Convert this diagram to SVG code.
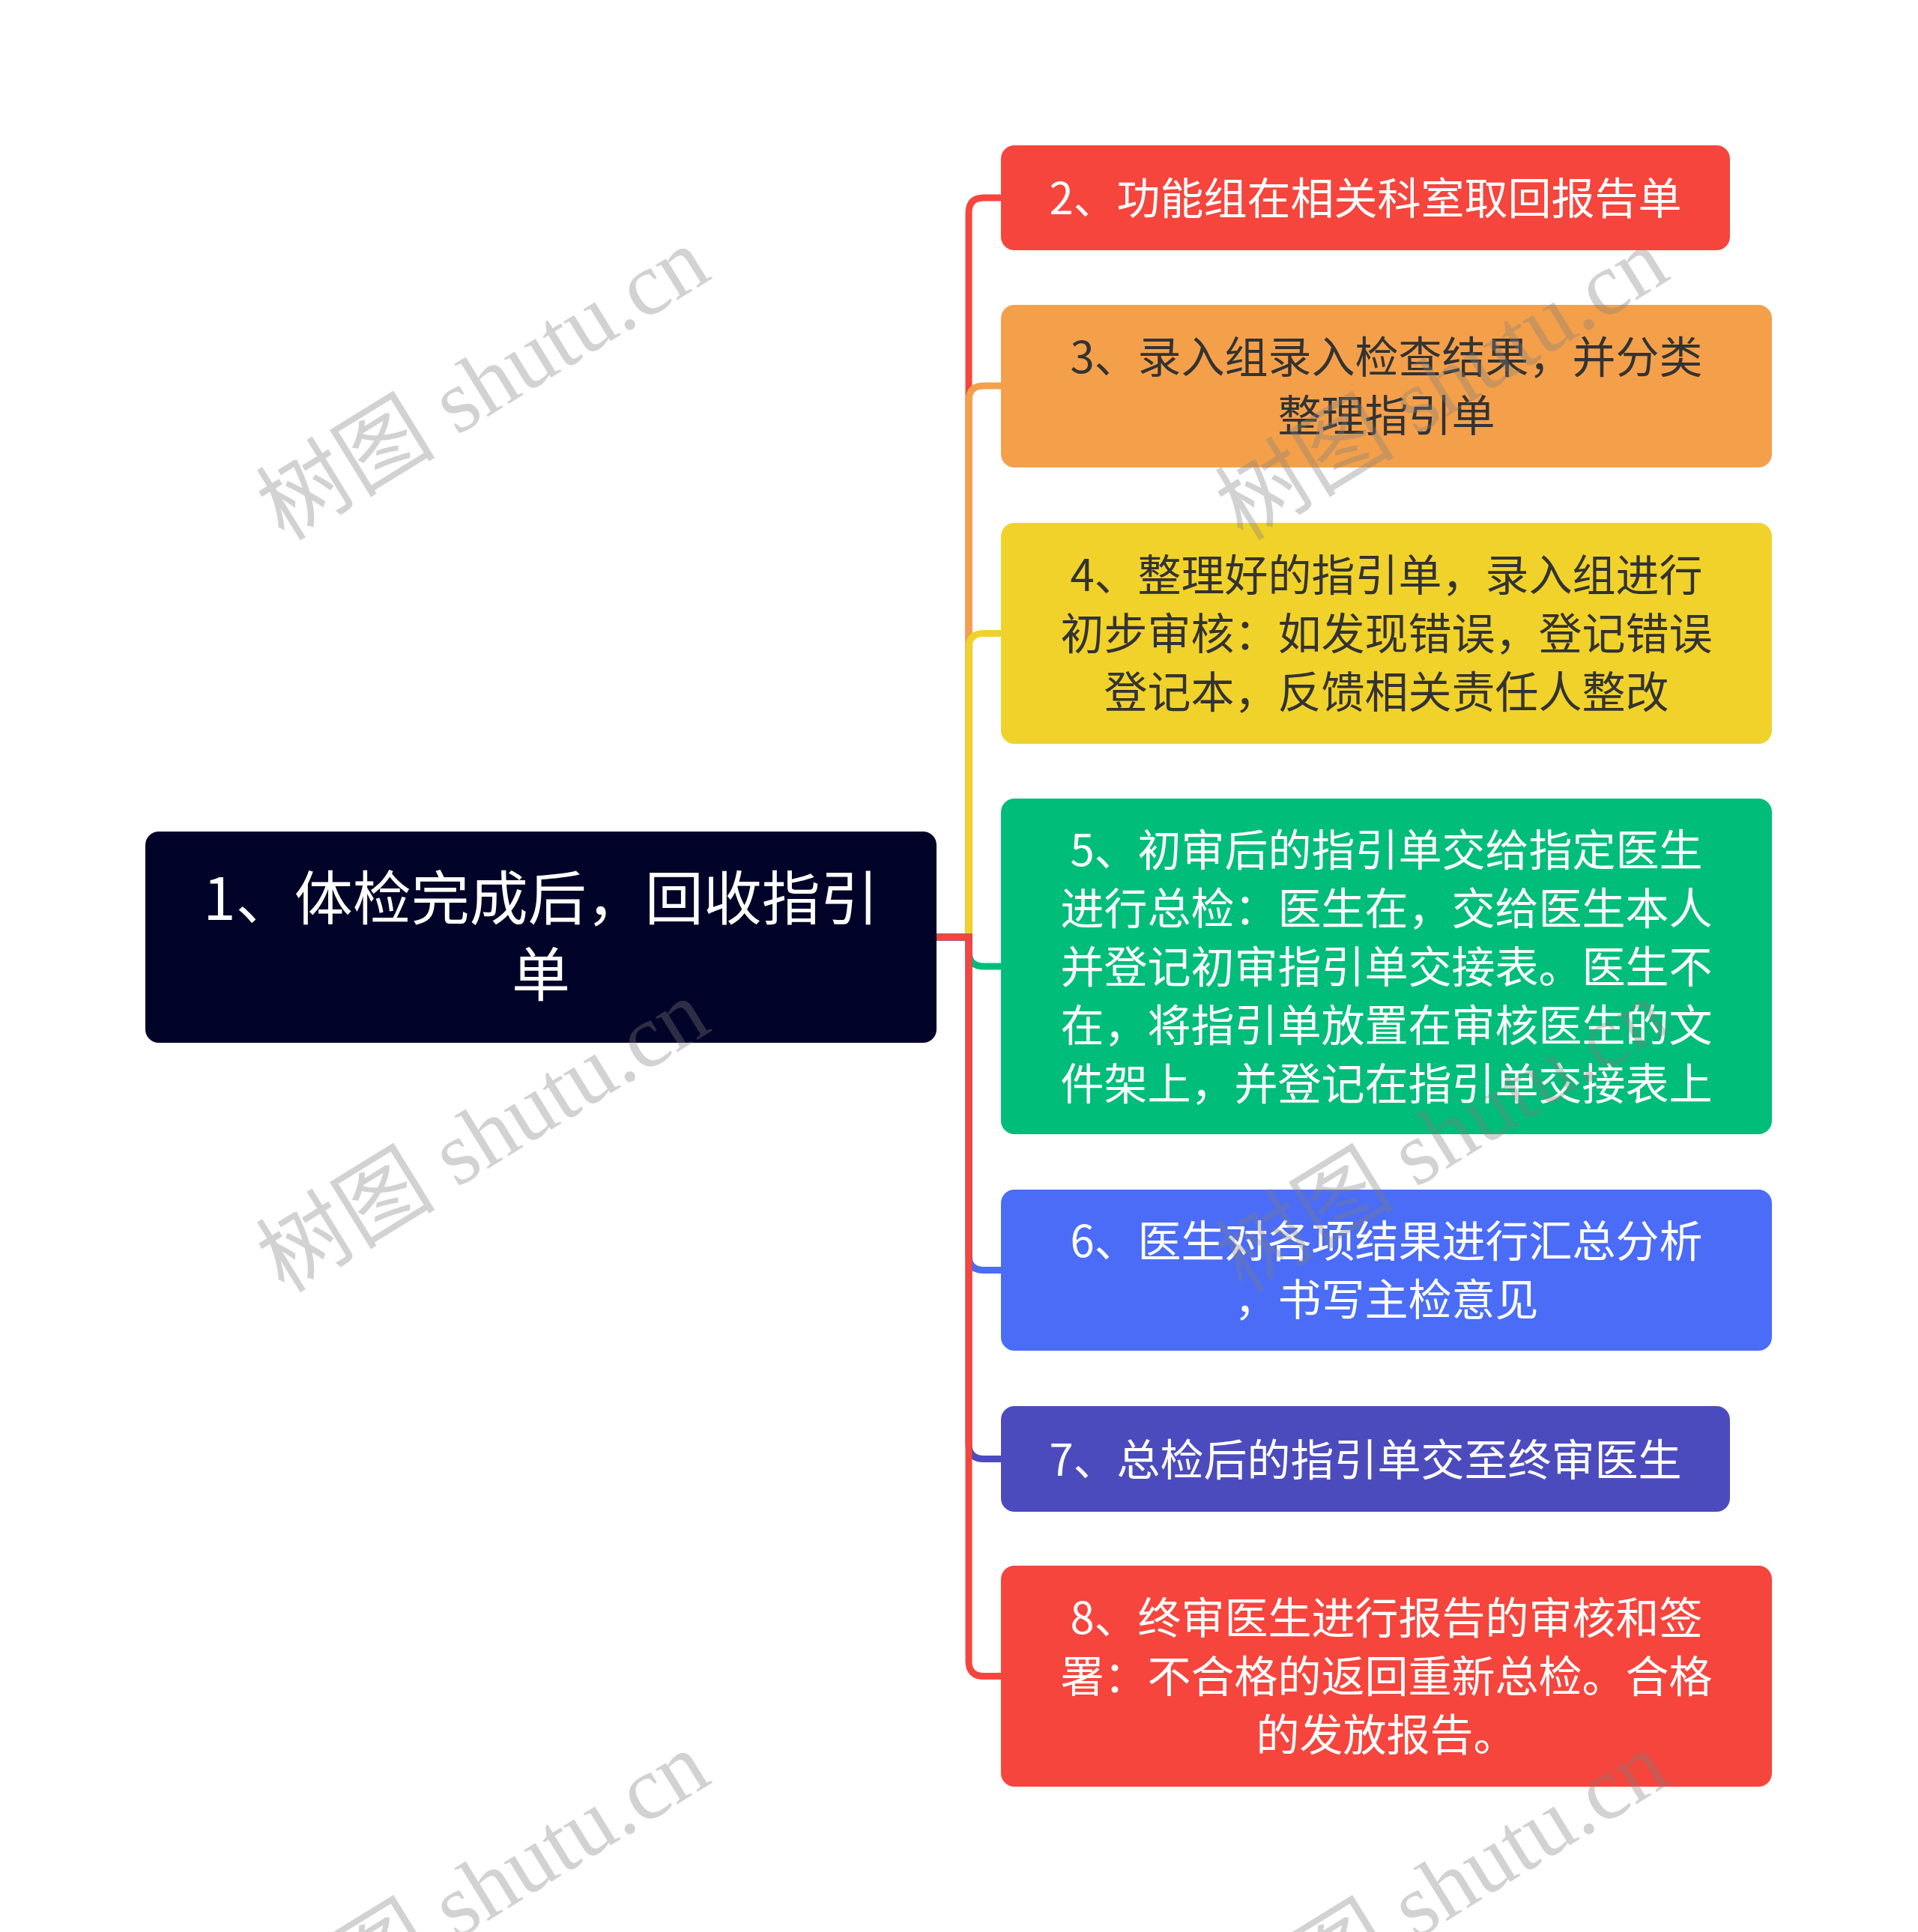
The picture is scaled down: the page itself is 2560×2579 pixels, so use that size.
<svg xmlns="http://www.w3.org/2000/svg" width="2560" height="2579" viewBox="0 0 2560 2579">
<style>
.t{font-family:"Noto Sans CJK SC","Noto Sans",sans-serif;font-size:58px;text-anchor:middle}
.w{fill:#ffffff}
.d{fill:#333333}
.root{font-family:"Noto Sans CJK SC","Noto Sans",sans-serif;font-size:78px;text-anchor:middle;fill:#ffffff}
.c{fill:none;stroke-width:9}
.wm{font-family:"Liberation Serif","Noto Sans CJK SC",serif;font-size:120px;text-anchor:middle;fill:#7f7f7f;fill-opacity:0.35}
</style>
<rect x="0" y="0" width="2560" height="2579" fill="#ffffff"/>
<g id="connectors">
<path class="c" stroke="#F5453D" d="M1250 1251 H1293 V284 Q1293 264 1313 264 H1336"/>
<path class="c" stroke="#F4A04B" d="M1250 1251 H1293 V535 Q1293 515 1313 515 H1336"/>
<path class="c" stroke="#F1D22A" d="M1250 1251 H1293 V865.5 Q1293 845.5 1313 845.5 H1336"/>
<path class="c" stroke="#00BD7A" d="M1250 1251 H1293 V1270 Q1293 1290 1313 1290 H1336"/>
<path class="c" stroke="#4A6CF7" d="M1250 1251 H1293 V1675.5 Q1293 1695.5 1313 1695.5 H1336"/>
<path class="c" stroke="#4C4BBE" d="M1250 1251 H1293 V1927.5 Q1293 1947.5 1313 1947.5 H1336"/>
<path class="c" stroke="#F5453D" d="M1250 1251 H1293 V2217.5 Q1293 2237.5 1313 2237.5 H1336"/>
</g>
<g id="node1">
<rect x="194" y="1110" width="1056" height="282" rx="18" fill="#020328"/>
<text class="root" x="722" y="1228">1、体检完成后，回收指引</text>
<text class="root" x="722" y="1330">单</text>
</g>
<g id="node2">
<rect x="1336" y="194" width="973" height="140" rx="18" fill="#F5453D"/>
<text class="t w" x="1822.5" y="286">2、功能组在相关科室取回报告单</text>
</g>
<g id="node3">
<rect x="1336" y="407" width="1029" height="217" rx="18" fill="#F4A04B"/>
<text class="t d" x="1850.5" y="498">3、录入组录入检查结果，并分类</text>
<text class="t d" x="1850.5" y="576">整理指引单</text>
</g>
<g id="node4">
<rect x="1336" y="698" width="1029" height="295" rx="18" fill="#F1D22A"/>
<text class="t d" x="1850.5" y="789">4、整理好的指引单，录入组进行</text>
<text class="t d" x="1850.5" y="867">初步审核：如发现错误，登记错误</text>
<text class="t d" x="1850.5" y="945">登记本，反馈相关责任人整改</text>
</g>
<g id="node5">
<rect x="1336" y="1066" width="1029" height="448" rx="18" fill="#00BD7A"/>
<text class="t w" x="1850.5" y="1156">5、初审后的指引单交给指定医生</text>
<text class="t w" x="1850.5" y="1234">进行总检：医生在，交给医生本人</text>
<text class="t w" x="1850.5" y="1312">并登记初审指引单交接表。医生不</text>
<text class="t w" x="1850.5" y="1390">在，将指引单放置在审核医生的文</text>
<text class="t w" x="1850.5" y="1468">件架上，并登记在指引单交接表上</text>
</g>
<g id="node6">
<rect x="1336" y="1588" width="1029" height="215" rx="18" fill="#4A6CF7"/>
<text class="t w" x="1850.5" y="1678">6、医生对各项结果进行汇总分析</text>
<text class="t w" x="1850.5" y="1756">，书写主检意见</text>
</g>
<g id="node7">
<rect x="1336" y="1877" width="973" height="141" rx="18" fill="#4C4BBE"/>
<text class="t w" x="1822.5" y="1969.5">7、总检后的指引单交至终审医生</text>
</g>
<g id="node8">
<rect x="1336" y="2090" width="1029" height="295" rx="18" fill="#F5453D"/>
<text class="t w" x="1850.5" y="2181">8、终审医生进行报告的审核和签</text>
<text class="t w" x="1850.5" y="2259">署：不合格的返回重新总检。合格</text>
<text class="t w" x="1850.5" y="2337">的发放报告。</text>
</g>
<g id="watermarks">
<text class="wm" transform="translate(645 513) rotate(-31.6)" x="0" y="40">树图 shutu.cn</text>
<text class="wm" transform="translate(1925 513) rotate(-31.6)" x="0" y="40">树图 shutu.cn</text>
<text class="wm" transform="translate(645 1517) rotate(-31.6)" x="0" y="40">树图 shutu.cn</text>
<text class="wm" transform="translate(1925 1517) rotate(-31.6)" x="0" y="40">树图 shutu.cn</text>
<text class="wm" transform="translate(645 2521) rotate(-31.6)" x="0" y="40">树图 shutu.cn</text>
<text class="wm" transform="translate(1925 2521) rotate(-31.6)" x="0" y="40">树图 shutu.cn</text>
</g>
</svg>
